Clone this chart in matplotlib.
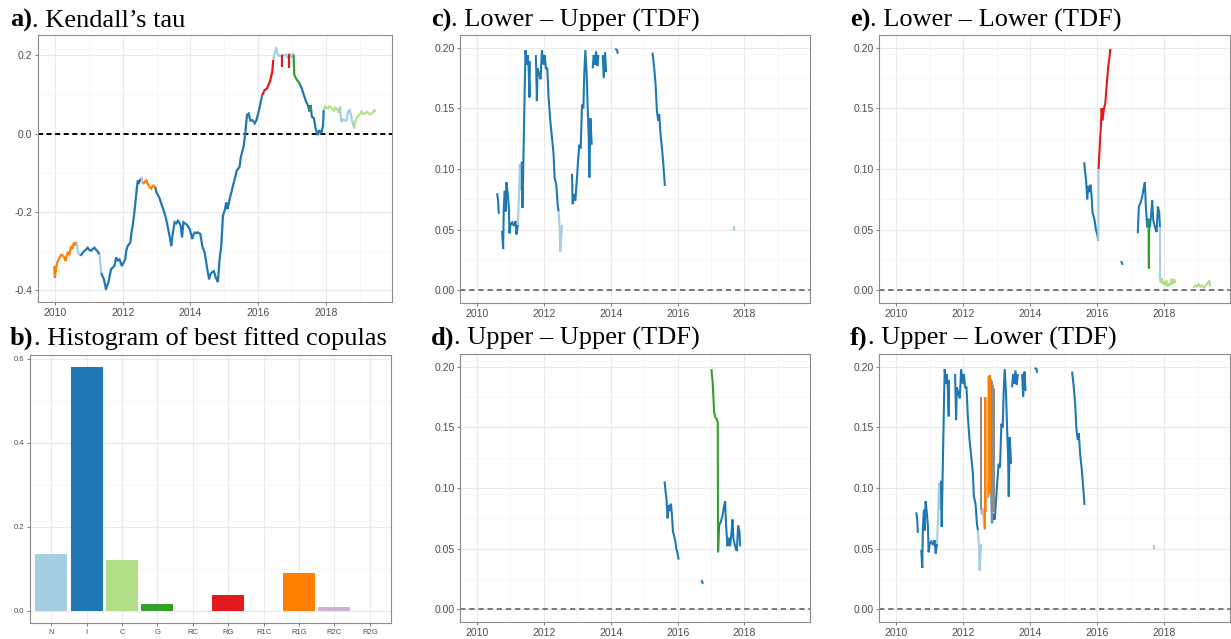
import matplotlib
matplotlib.use('Agg')
import matplotlib.pyplot as plt
from matplotlib.ticker import MultipleLocator, FixedLocator

plt.rcParams['font.family'] = ['Liberation Sans', 'DejaVu Sans']

# colours of the copula families (Paired palette)
fam_colors = {'N': '#A6CEE3', 'I': '#1F78B4', 'C': '#B2DF8A', 'G': '#33A02C',
              'RC': '#FB9A99', 'RG': '#E31A1C', 'R1C': '#FDBF6F', 'R1G': '#FF7F00',
              'R2C': '#CAB2D6', 'R2G': '#6A3D9A', 'NA': '#8c8c8c'}

# ---- a) rolling Kendall's tau, one list of (year, tau) per run of the same copula
tau_fam = ['R1G', 'N', 'I', 'N', 'I', 'R2C', 'R1G', 'I', 'RG', 'N', 'RG', 'RG',
           'G', 'I', 'G', 'I', 'C', 'N', 'C']
tau_pts = [
    [(2009.97, -0.339), (2009.99, -0.369), (2010.02, -0.345), (2010.06, -0.330), (2010.10, -0.322),
     (2010.13, -0.317), (2010.18, -0.310), (2010.23, -0.313), (2010.27, -0.318), (2010.30, -0.326),
     (2010.34, -0.312), (2010.37, -0.305), (2010.42, -0.309), (2010.47, -0.288), (2010.51, -0.295),
     (2010.55, -0.279), (2010.59, -0.286), (2010.64, -0.277)],
    [(2010.64, -0.277), (2010.67, -0.305), (2010.75, -0.313)],
    [(2010.75, -0.313), (2010.81, -0.305), (2010.87, -0.300), (2010.92, -0.296), (2010.96, -0.292),
     (2011.01, -0.298), (2011.06, -0.300), (2011.11, -0.295), (2011.16, -0.292), (2011.20, -0.297),
     (2011.24, -0.300), (2011.31, -0.309)],
    [(2011.31, -0.309), (2011.36, -0.356)],
    [(2011.36, -0.356), (2011.40, -0.365), (2011.44, -0.373), (2011.47, -0.385), (2011.50, -0.399),
     (2011.53, -0.390), (2011.57, -0.382), (2011.61, -0.365), (2011.65, -0.347), (2011.70, -0.343),
     (2011.75, -0.339), (2011.80, -0.317), (2011.85, -0.325), (2011.90, -0.322), (2011.97, -0.339),
     (2012.02, -0.330), (2012.07, -0.322), (2012.10, -0.300), (2012.14, -0.288), (2012.22, -0.279),
     (2012.26, -0.250), (2012.29, -0.236), (2012.34, -0.202), (2012.39, -0.159), (2012.44, -0.120),
     (2012.48, -0.125), (2012.52, -0.116)],
    [(2012.52, -0.116), (2012.55, -0.112), (2012.59, -0.129)],
    [(2012.59, -0.129), (2012.64, -0.125), (2012.69, -0.120), (2012.73, -0.128), (2012.77, -0.133),
     (2012.80, -0.138), (2012.84, -0.141), (2012.88, -0.135), (2012.91, -0.133), (2012.96, -0.137)],
    [(2012.96, -0.137), (2012.99, -0.150), (2013.04, -0.158), (2013.09, -0.167), (2013.14, -0.180),
     (2013.19, -0.193), (2013.24, -0.205), (2013.28, -0.219), (2013.32, -0.235), (2013.36, -0.253),
     (2013.40, -0.270), (2013.43, -0.288), (2013.48, -0.253), (2013.53, -0.227), (2013.58, -0.230),
     (2013.63, -0.223), (2013.67, -0.228), (2013.71, -0.236), (2013.75, -0.266), (2013.79, -0.227),
     (2013.84, -0.230), (2013.88, -0.232), (2013.93, -0.238), (2013.98, -0.245), (2014.05, -0.270),
     (2014.09, -0.258), (2014.13, -0.253), (2014.18, -0.255), (2014.22, -0.253), (2014.29, -0.257),
     (2014.35, -0.288), (2014.42, -0.305), (2014.49, -0.343), (2014.55, -0.373), (2014.58, -0.362),
     (2014.62, -0.356), (2014.69, -0.352), (2014.75, -0.369), (2014.81, -0.380), (2014.86, -0.322),
     (2014.91, -0.288), (2014.96, -0.210), (2015.01, -0.197), (2015.06, -0.176), (2015.10, -0.193),
     (2015.13, -0.180), (2015.17, -0.163), (2015.21, -0.150), (2015.27, -0.129), (2015.31, -0.116),
     (2015.37, -0.094), (2015.45, -0.086), (2015.49, -0.060), (2015.57, -0.034), (2015.62, 0.000),
     (2015.67, 0.047), (2015.72, 0.051), (2015.77, 0.033), (2015.84, 0.034), (2015.90, 0.026),
     (2015.95, 0.034), (2016.00, 0.051), (2016.05, 0.069), (2016.09, 0.086), (2016.12, 0.098)],
    [(2016.12, 0.098), (2016.16, 0.105), (2016.19, 0.111), (2016.23, 0.113), (2016.27, 0.116),
     (2016.31, 0.125), (2016.35, 0.133), (2016.39, 0.147), (2016.42, 0.159), (2016.45, 0.189)],
    [(2016.45, 0.189), (2016.49, 0.206), (2016.54, 0.221), (2016.57, 0.205), (2016.59, 0.202),
     (2016.63, 0.198), (2016.67, 0.199), (2016.72, 0.202), (2016.77, 0.200), (2016.82, 0.202),
     (2016.87, 0.193), (2016.92, 0.204), (2016.96, 0.198), (2016.99, 0.197), (2017.02, 0.203),
     (2017.05, 0.202)],
    [(2016.72, 0.202), (2016.72, 0.170)],
    [(2016.92, 0.204), (2016.92, 0.168)],
    [(2017.05, 0.202), (2017.07, 0.150), (2017.11, 0.143), (2017.15, 0.137), (2017.19, 0.133),
     (2017.22, 0.129)],
    [(2017.22, 0.129), (2017.26, 0.121), (2017.29, 0.116), (2017.35, 0.099), (2017.38, 0.092),
     (2017.42, 0.081), (2017.47, 0.073), (2017.52, 0.056)],
    [(2017.52, 0.056), (2017.55, 0.073), (2017.57, 0.060)],
    [(2017.57, 0.060), (2017.59, 0.043), (2017.65, 0.039), (2017.70, 0.013), (2017.73, 0.005),
     (2017.76, -0.004), (2017.81, 0.009), (2017.85, 0.002), (2017.88, 0.004), (2017.92, 0.021),
     (2017.94, 0.060)],
    [(2017.94, 0.060), (2017.98, 0.069), (2018.02, 0.066), (2018.06, 0.064), (2018.10, 0.069),
     (2018.16, 0.067), (2018.20, 0.062), (2018.24, 0.058), (2018.28, 0.066), (2018.31, 0.064),
     (2018.35, 0.060), (2018.38, 0.053), (2018.42, 0.069)],
    [(2018.42, 0.069), (2018.46, 0.030), (2018.50, 0.036), (2018.54, 0.034), (2018.61, 0.033),
     (2018.66, 0.056), (2018.71, 0.060), (2018.75, 0.045), (2018.78, 0.034), (2018.84, 0.013)],
    [(2018.84, 0.013), (2018.86, 0.026), (2018.91, 0.039), (2018.98, 0.047), (2019.02, 0.050),
     (2019.06, 0.056), (2019.11, 0.050), (2019.16, 0.051), (2019.21, 0.055), (2019.26, 0.053),
     (2019.31, 0.049), (2019.36, 0.051), (2019.40, 0.055), (2019.44, 0.060), (2019.48, 0.056)],
]

# ---- b) share of days each copula was the best fit
copula_names = ['N', 'I', 'C', 'G', 'RC', 'RG', 'R1C', 'R1G', 'R2C', 'R2G']
copula_share = [0.136, 0.580, 0.122, 0.016, 0.0, 0.037, 0.0, 0.090, 0.0095, 0.0]

# ---- c) / f) tail dependence from the t-copula (same for lower-upper and upper-lower)
tdf_lu_fam = ['I', 'I', 'N', 'I', 'I', 'N', 'I', 'I', 'I', 'I', 'I', 'N']
tdf_lu_pts = [
    [(2010.60, 0.080), (2010.62, 0.076), (2010.63, 0.074), (2010.65, 0.063)],
    [(2010.75, 0.049), (2010.78, 0.034), (2010.80, 0.068), (2010.83, 0.082), (2010.85, 0.065),
     (2010.88, 0.089), (2010.92, 0.079), (2010.95, 0.068), (2010.97, 0.047), (2011.00, 0.054),
     (2011.05, 0.056), (2011.10, 0.053), (2011.15, 0.057), (2011.18, 0.046), (2011.22, 0.054)],
    [(2011.22, 0.054), (2011.25, 0.074), (2011.28, 0.104), (2011.31, 0.082), (2011.34, 0.106)],
    [(2011.34, 0.106), (2011.36, 0.068), (2011.40, 0.128), (2011.43, 0.172), (2011.45, 0.198),
     (2011.48, 0.186), (2011.51, 0.194), (2011.54, 0.185), (2011.57, 0.159), (2011.58, 0.189)],
    [(2011.76, 0.194), (2011.79, 0.156), (2011.81, 0.183), (2011.86, 0.178), (2011.90, 0.174),
     (2011.94, 0.198), (2011.99, 0.186), (2012.02, 0.194), (2012.06, 0.183), (2012.10, 0.183),
     (2012.14, 0.159), (2012.19, 0.140), (2012.24, 0.126), (2012.29, 0.112), (2012.32, 0.093),
     (2012.37, 0.087), (2012.41, 0.071), (2012.44, 0.065)],
    [(2012.44, 0.065), (2012.47, 0.052), (2012.49, 0.032), (2012.52, 0.046), (2012.54, 0.054)],
    [(2012.84, 0.096), (2012.86, 0.071), (2012.90, 0.079), (2012.94, 0.074), (2012.99, 0.093),
     (2013.02, 0.106), (2013.06, 0.120), (2013.10, 0.117), (2013.14, 0.153), (2013.18, 0.150),
     (2013.21, 0.180), (2013.24, 0.198), (2013.28, 0.178), (2013.31, 0.150), (2013.34, 0.128),
     (2013.36, 0.093), (2013.39, 0.142), (2013.43, 0.120)],
    [(2013.46, 0.183), (2013.49, 0.194), (2013.53, 0.186), (2013.56, 0.197), (2013.60, 0.185),
     (2013.63, 0.194)],
    [(2013.76, 0.194), (2013.79, 0.175), (2013.83, 0.196), (2013.86, 0.180)],
    [(2014.13, 0.199), (2014.19, 0.198), (2014.21, 0.195)],
    [(2015.25, 0.196), (2015.30, 0.183), (2015.34, 0.170), (2015.38, 0.148), (2015.42, 0.140),
     (2015.45, 0.145), (2015.49, 0.128), (2015.54, 0.115), (2015.58, 0.101), (2015.62, 0.086)],
    [(2017.70, 0.049), (2017.70, 0.053)],
]

# ---- f) extra pieces where rotated copulas were picked
ul_extra_fam = ['NA', 'R2C', 'R1G', 'R1G', 'NA', 'NA']
ul_extra_pts = [
    [(2012.53, 0.082), (2012.53, 0.175)],
    [(2012.53, 0.082), (2012.56, 0.078), (2012.59, 0.083), (2012.62, 0.070), (2012.65, 0.066)],
    [(2012.65, 0.066), (2012.66, 0.175), (2012.67, 0.080)],
    [(2012.75, 0.092), (2012.765, 0.192), (2012.78, 0.100), (2012.795, 0.193), (2012.81, 0.095),
     (2012.825, 0.190), (2012.84, 0.100), (2012.855, 0.188), (2012.87, 0.095), (2012.885, 0.185),
     (2012.90, 0.100), (2012.91, 0.182), (2012.92, 0.098)],
    [(2012.85, 0.072), (2012.85, 0.188)],
    [(2012.91, 0.080), (2012.91, 0.182)],
]

# ---- d) / e) symmetric t-copula tail dependence (same for upper-upper and lower-lower)
tdf_sym_fam = ['I', 'I', 'I']
tdf_sym_pts = [
    [(2015.61, 0.1055), (2015.64, 0.097), (2015.67, 0.090), (2015.70, 0.075), (2015.73, 0.086),
     (2015.76, 0.081), (2015.80, 0.087), (2015.83, 0.078), (2015.86, 0.064), (2015.90, 0.060),
     (2015.93, 0.056), (2015.96, 0.050), (2016.00, 0.046), (2016.03, 0.041)],
    [(2016.71, 0.024), (2016.76, 0.021)],
    [(2017.21, 0.047), (2017.24, 0.069), (2017.29, 0.072), (2017.34, 0.077), (2017.39, 0.085),
     (2017.42, 0.089), (2017.45, 0.069), (2017.49, 0.052), (2017.53, 0.059), (2017.57, 0.052),
     (2017.61, 0.063), (2017.64, 0.074), (2017.67, 0.058), (2017.72, 0.052), (2017.77, 0.048),
     (2017.81, 0.069), (2017.85, 0.064), (2017.87, 0.052)],
]

uu_extra_fam = ['G']
uu_extra_pts = [
    [(2017.01, 0.198), (2017.05, 0.187), (2017.09, 0.163), (2017.13, 0.158), (2017.17, 0.157),
     (2017.20, 0.154), (2017.21, 0.047)],
]

ll_extra_fam = ['N', 'RG', 'G', 'N', 'C', 'C']
ll_extra_pts = [
    [(2016.03, 0.041), (2016.04, 0.100)],
    [(2016.04, 0.100), (2016.08, 0.122), (2016.11, 0.136), (2016.13, 0.150), (2016.16, 0.140),
     (2016.20, 0.150), (2016.24, 0.154), (2016.28, 0.169), (2016.33, 0.185), (2016.36, 0.191),
     (2016.39, 0.199)],
    [(2017.53, 0.059), (2017.54, 0.018), (2017.55, 0.052)],
    [(2017.87, 0.052), (2017.87, 0.009)],
    [(2017.87, 0.009), (2017.90, 0.006), (2017.93, 0.010), (2017.96, 0.005), (2018.00, 0.007),
     (2018.03, 0.004), (2018.06, 0.008), (2018.10, 0.003), (2018.14, 0.006), (2018.18, 0.004),
     (2018.22, 0.010), (2018.26, 0.005), (2018.30, 0.009), (2018.33, 0.006)],
    [(2018.87, 0.002), (2018.92, 0.004), (2018.97, 0.003), (2019.02, 0.005), (2019.07, 0.003),
     (2019.12, 0.004), (2019.18, 0.002), (2019.24, 0.004), (2019.30, 0.006), (2019.34, 0.008),
     (2019.37, 0.003)],
]

year_ticks = [2010, 2012, 2014, 2016, 2018]

W, H = 1231, 639
fig = plt.figure(figsize=(W / 100, H / 100), dpi=100)
fig.patch.set_facecolor('white')


def panel(l, t, r, b):
    return fig.add_axes([l / W, 1 - b / H, (r - l) / W, (b - t) / H])


def style(ax, fs):
    for s in ax.spines.values():
        s.set_color('#8c8c8c')
        s.set_linewidth(0.8)
    ax.grid(which='major', color='#ebebeb', lw=0.8)
    ax.grid(which='minor', color='#f4f4f4', lw=0.5)
    ax.set_axisbelow(True)
    ax.tick_params(which='major', length=2.5, width=0.6, color='#666666',
                   labelsize=fs, labelcolor='#4d4d4d', pad=1.5)
    ax.tick_params(which='minor', length=0)


def time_axis(ax):
    ax.set_xlim(2009.49, 2019.96)
    ax.xaxis.set_major_locator(FixedLocator(year_ticks))
    ax.xaxis.set_minor_locator(MultipleLocator(1))
    ax.set_xticklabels([str(y) for y in year_ticks])


def draw_runs(ax, fams, runs, lw=1.5):
    for f, run in zip(fams, runs):
        t, v = zip(*run)
        ax.plot(t, v, color=fam_colors[f], lw=lw, solid_capstyle='butt', solid_joinstyle='miter')


def tdf_axis(ax):
    time_axis(ax)
    ax.set_ylim(-0.0105, 0.2105)
    ax.set_yticks([0, 0.05, 0.10, 0.15, 0.20])
    ax.set_yticklabels(['0.00', '0.05', '0.10', '0.15', '0.20'])
    ax.yaxis.set_minor_locator(MultipleLocator(0.025))
    ax.axhline(0, color='#555555', lw=1.1, ls=(0, (3.5, 2.5)), zorder=1)
    style(ax, 7.5)


def title(x, y, bold, rest):
    kw = dict(fontfamily='Liberation Serif', fontsize=19, va='baseline', ha='left')
    t1 = fig.text(x / W, 1 - y / H, bold, fontweight='bold', **kw)
    bb = t1.get_window_extent(fig.canvas.get_renderer())
    fig.text(bb.x1 / W, 1 - y / H, rest, **kw)


# a) Kendall's tau
ax_a = panel(38, 35, 392, 302)
time_axis(ax_a)
ax_a.set_ylim(-0.431, 0.252)
ax_a.set_yticks([-0.4, -0.2, 0.0, 0.2])
ax_a.set_yticklabels(['-0.4', '-0.2', '0.0', '0.2'])
ax_a.yaxis.set_minor_locator(MultipleLocator(0.1))
ax_a.axhline(0, color='black', lw=1.4, ls=(0, (2.6, 1.8)), zorder=1)
draw_runs(ax_a, tau_fam, tau_pts, lw=1.6)
style(ax_a, 7.5)

# b) histogram of best fitted copulas
ax_b = panel(30, 355, 391, 623)
xs = list(range(len(copula_names)))
ax_b.bar(xs, copula_share, width=0.9, color=[fam_colors[n] for n in copula_names], zorder=2)
ax_b.set_xlim(-0.6, len(copula_names) - 0.4)
ax_b.set_ylim(-0.029, 0.609)
ax_b.set_xticks(xs)
ax_b.set_xticklabels(copula_names)
ax_b.set_yticks([0.0, 0.2, 0.4, 0.6])
ax_b.set_yticklabels(['0.0', '0.2', '0.4', '0.6'])
ax_b.yaxis.set_minor_locator(MultipleLocator(0.1))
style(ax_b, 5.5)

# c) lower - upper
ax_c = panel(460, 35, 810, 303)
tdf_axis(ax_c)
draw_runs(ax_c, tdf_lu_fam, tdf_lu_pts)

# d) upper - upper
ax_d = panel(460, 354, 810, 622)
tdf_axis(ax_d)
draw_runs(ax_d, tdf_sym_fam, tdf_sym_pts)
draw_runs(ax_d, uu_extra_fam, uu_extra_pts)

# e) lower - lower
ax_e = panel(879, 35, 1230, 303)
tdf_axis(ax_e)
draw_runs(ax_e, tdf_sym_fam, tdf_sym_pts)
draw_runs(ax_e, ll_extra_fam, ll_extra_pts)

# f) upper - lower
ax_f = panel(879, 354, 1230, 622)
tdf_axis(ax_f)
draw_runs(ax_f, tdf_lu_fam, tdf_lu_pts)
draw_runs(ax_f, ul_extra_fam, ul_extra_pts)

title(10, 27, 'a)', '. Kendall\u2019s tau')
title(10, 345, 'b)', '. Histogram of best fitted copulas')
title(431, 27, 'c)', '. Lower \u2013 Upper (TDF)')
title(431, 345, 'd)', '. Upper \u2013 Upper (TDF)')
title(850, 27, 'e)', '. Lower \u2013 Lower (TDF)')
title(850, 345, 'f)', '. Upper \u2013 Lower (TDF)')

fig.savefig('out.png', dpi=100, facecolor='white')
